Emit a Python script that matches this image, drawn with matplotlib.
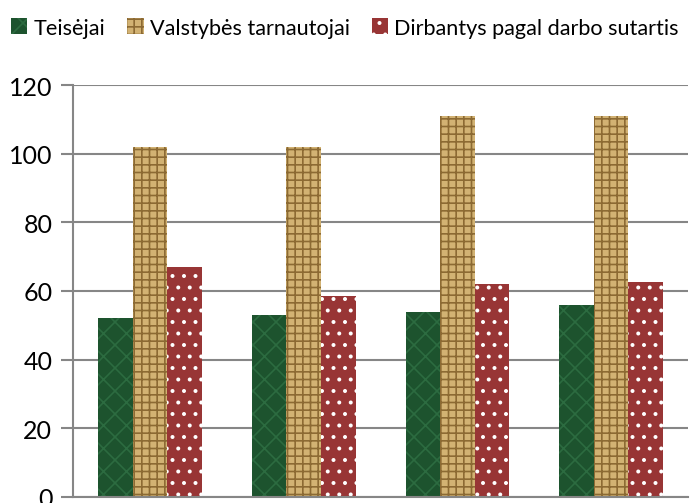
import matplotlib
matplotlib.use('Agg')
from matplotlib import pyplot as plt
from matplotlib.patches import Patch
import numpy as np

# higher dpi so the hatch cells come out close to the reference pattern size
DPI = 138
k = 100 / DPI

plt.rcParams['font.family'] = ['Lato', 'DejaVu Sans']
plt.rcParams['hatch.linewidth'] = 1.2 * k

groups = ['1', '2', '3', '4']
series_names = ['Teisėjai', 'Valstybės tarnautojai', 'Dirbantys pagal darbo sutartis']
teisejai = [52, 53, 54, 56]
tarnautojai = [102, 102, 111, 111]
sutartis = [67, 58.5, 62, 62.7]

fig = plt.figure(figsize=(690 / DPI, 504 / DPI), dpi=DPI)
ax = fig.add_axes([0.106, 0.0125, 0.891, 0.8165])

x = np.arange(len(groups))
w = 0.225
styles = [
    dict(facecolor='#1d532e', edgecolor='#2c6b40', hatch='xx'),
    dict(facecolor='#d2b273', edgecolor='#8c6a33', hatch='+++'),
    dict(facecolor='#983535', edgecolor='white', hatch='..'),
]
for i, vals in enumerate([teisejai, tarnautojai, sutartis]):
    ax.bar(x + (i - 1) * w, vals, w, linewidth=0, **styles[i])

ax.set_xlim(-0.5, 3.5)
ax.set_ylim(0, 120)
ax.set_yticks(range(0, 121, 20))
ax.set_xticks([])
ax.grid(axis='y', color='#868686', linewidth=1.5 * k)
ax.set_axisbelow(True)
for s in ['top', 'right']:
    ax.spines[s].set_visible(False)
for s in ['left', 'bottom']:
    ax.spines[s].set_color('#868686')
    ax.spines[s].set_linewidth(1.5 * k)
ax.tick_params(axis='y', length=9 * k, width=1.5 * k, color='#868686',
               labelsize=18 * k, pad=6 * k)

handles = [Patch(linewidth=0, **st) for st in styles]
fig.legend(handles, series_names, loc='center', bbox_to_anchor=(0.5, 0.943),
           ncol=3, frameon=False, fontsize=15.6 * k, handlelength=0.75, handleheight=0.75,
           handletextpad=0.3, columnspacing=1.0)

fig.savefig('out.png', dpi=DPI)
